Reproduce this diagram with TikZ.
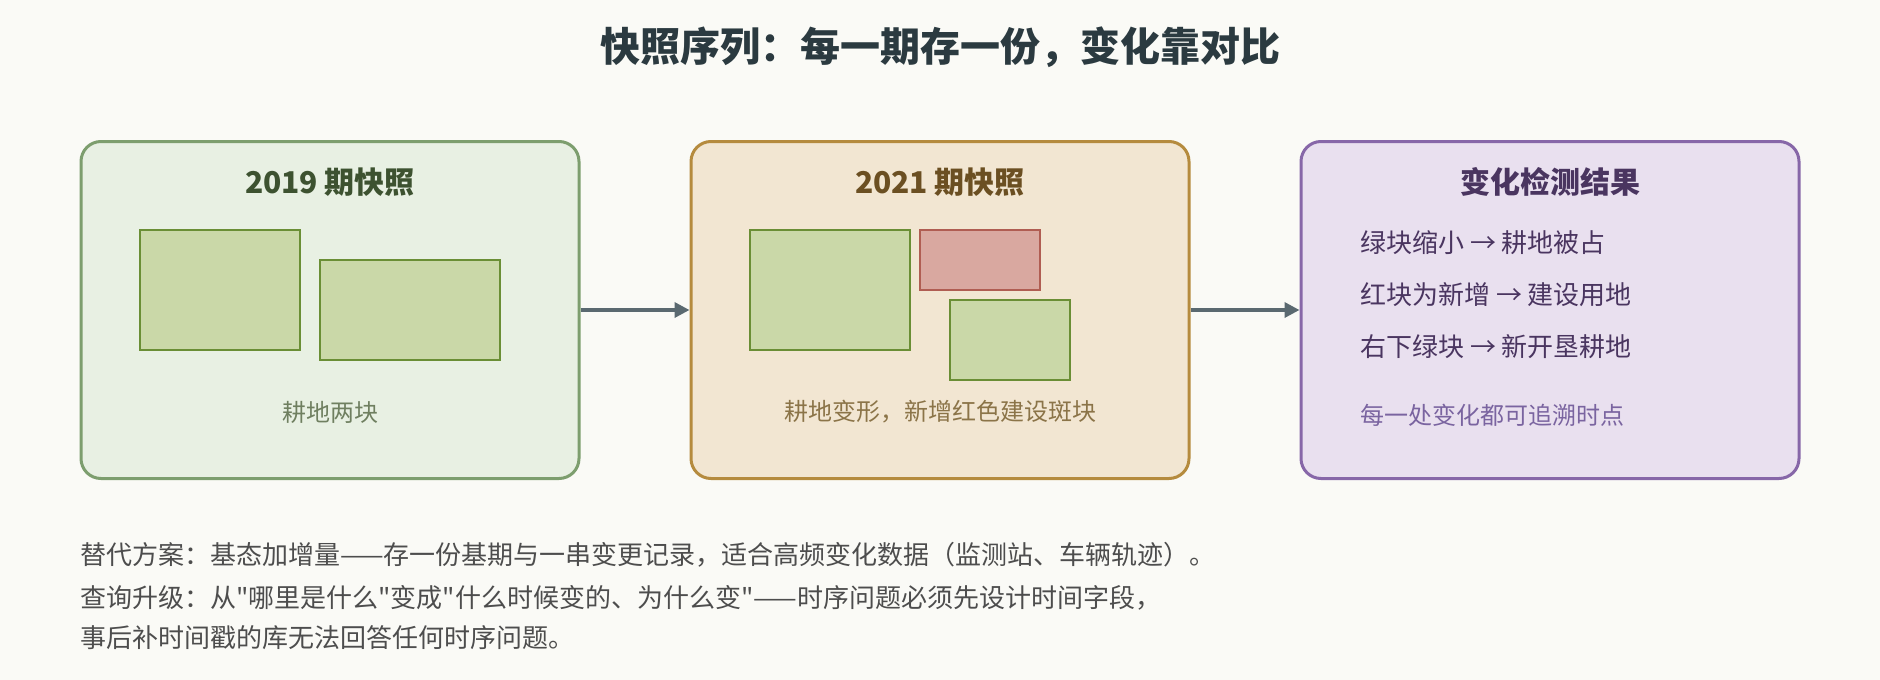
\documentclass[tikz,border=0pt]{standalone}
\usepackage{fontspec}
\setmainfont{Noto Sans CJK SC}
\newfontfamily\rawfont{Noto Sans CJK SC}
\usetikzlibrary{arrows.meta}
\definecolor{bgpaper}{HTML}{FAFAF6}
\definecolor{titleink}{HTML}{2B3A40}
\definecolor{oldfill}{HTML}{E8F0E3}
\definecolor{oldline}{HTML}{7D9E6E}
\definecolor{oldink}{HTML}{3D5230}
\definecolor{oldnote}{HTML}{6F7F60}
\definecolor{newfill}{HTML}{F2E6D2}
\definecolor{newline}{HTML}{B58B3E}
\definecolor{newink}{HTML}{6B4F22}
\definecolor{newnote}{HTML}{8B7448}
\definecolor{resfill}{HTML}{E9E0EF}
\definecolor{resline}{HTML}{8767A8}
\definecolor{resink}{HTML}{4A3560}
\definecolor{resnote}{HTML}{7A64A0}
\definecolor{farmfill}{HTML}{CAD8A8}
\definecolor{farmline}{HTML}{6A8E35}
\definecolor{buildfill}{HTML}{D9A8A0}
\definecolor{buildline}{HTML}{B05D52}
\definecolor{flowink}{HTML}{5A6970}
\definecolor{footink}{HTML}{4D4D4D}
\newcommand{\qt}{{\rawfont\char"22\relax}}
\begin{document}
\begin{tikzpicture}[x=1pt,y=-1pt,
    panel/.style={draw,rounded corners=20pt,line width=3pt,minimum width=498pt,minimum height=337pt,inner sep=0pt},
    farm/.style={draw=farmline,fill=farmfill,line width=2pt,inner sep=0pt},
    build/.style={draw=buildline,fill=buildfill,line width=2pt,inner sep=0pt},
    flow/.style={draw=flowink,line width=3.5pt,-{Triangle[length=15pt,width=15pt]}},
    head/.style={font=\fontsize{30}{36}\selectfont\bfseries},
    note/.style={font=\fontsize{24}{30}\selectfont},
    item/.style={font=\fontsize{26}{32}\selectfont,color=resink,anchor=west,inner sep=0pt},
    foot/.style={font=\fontsize{26}{32}\selectfont,color=footink,anchor=west,inner sep=0pt}]
    \fill [bgpaper] (0,0) rectangle (1880,680);
    \node [font=\fontsize{40}{48}\selectfont\bfseries,color=titleink] (title) at (940,47) {快照序列：每一期存一份，变化靠对比};
    % three panels
    \node [panel,draw=oldline,fill=oldfill] (old) at (330,310) {};
    \node [panel,draw=newline,fill=newfill] (new) at (940,310) {};
    \node [panel,draw=resline,fill=resfill] (res) at (1550,310) {};
    \draw [flow] (old) -- (new);
    \draw [flow] (new) -- (res);
    % 2019
    \node [head,color=oldink] (oldhead) at (330,182) {2019 期快照};
    \node [farm,minimum width=160pt,minimum height=120pt] (oldfarma) at (220,290) {};
    \node [farm,minimum width=180pt,minimum height=100pt] (oldfarmb) at (410,310) {};
    \node [note,color=oldnote] (oldnote) at (330,412) {耕地两块};
    % 2021
    \node [head,color=newink] (newhead) at (940,182) {2021 期快照};
    \node [farm,minimum width=160pt,minimum height=120pt] (newfarma) at (830,290) {};
    \node [build,minimum width=120pt,minimum height=60pt] (newbuild) at (980,260) {};
    \node [farm,minimum width=120pt,minimum height=80pt] (newfarmb) at (1010,340) {};
    \node [note,color=newnote] (newnote) at (940,412) {耕地变形，新增红色建设斑块};
    % result
    \node [head,color=resink] (reshead) at (1550,182) {变化检测结果};
    \node [item] (resa) at (1360,243) {绿块缩小 → 耕地被占};
    \node [item] (resb) at (1360,295) {红块为新增 → 建设用地};
    \node [item] (resc) at (1360,347) {右下绿块 → 新开垦耕地};
    \node [note,color=resnote,anchor=west,inner sep=0pt] (resnote) at (1360,415) {每一处变化都可追溯时点};
    % footnote lines
    \node [foot] (foota) at (80,555) {替代方案：基态加增量——存一份基期与一串变更记录，适合高频变化数据（监测站、车辆轨迹）。};
    \node [foot] (footb) at (80,598) {查询升级：从\qt 哪里是什么\qt 变成\qt 什么时候变的、为什么变\qt ——时序问题必须先设计时间字段，};
    \node [foot] (footc) at (80,638) {事后补时间戳的库无法回答任何时序问题。};
\end{tikzpicture}
\end{document}
